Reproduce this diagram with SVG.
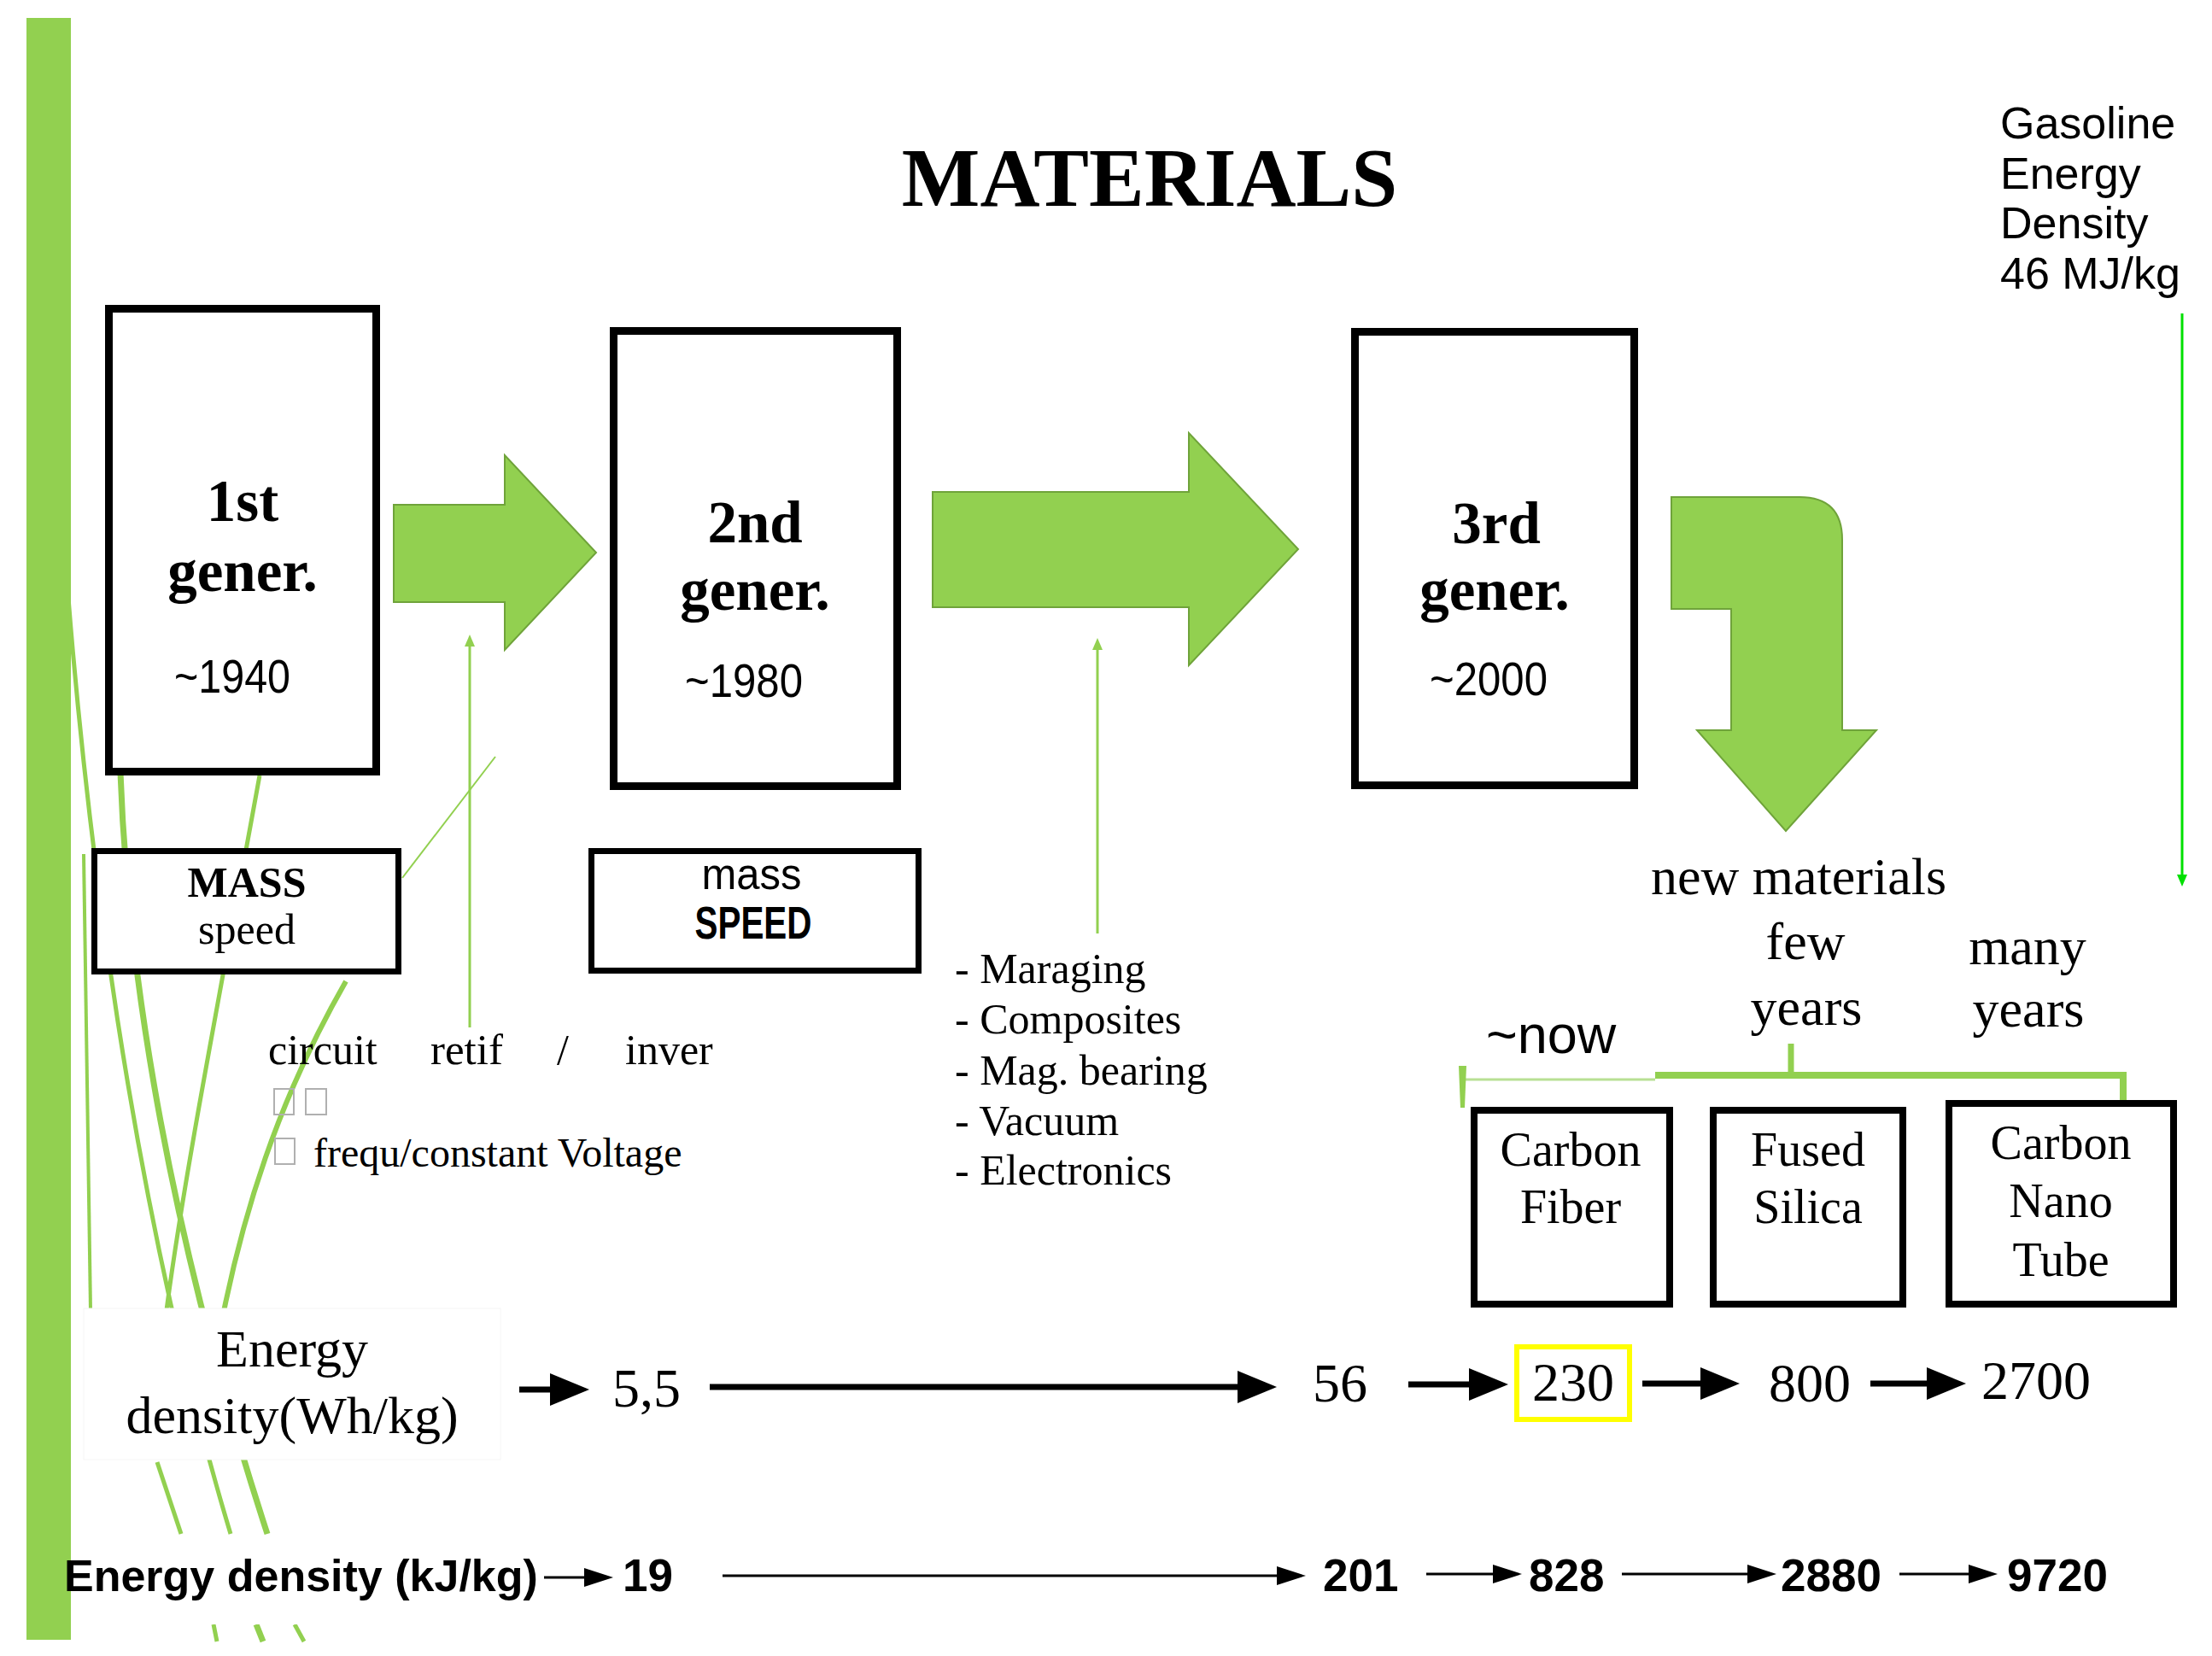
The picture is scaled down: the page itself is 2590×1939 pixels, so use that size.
<svg xmlns="http://www.w3.org/2000/svg" width="2590" height="1939" viewBox="0 0 2590 1939">
<defs>
<style>
.serif{font-family:"Liberation Serif","Times New Roman",serif;fill:#000}
.sans{font-family:"Liberation Sans",Arial,sans-serif;fill:#000}
.b{font-weight:bold}
.mid{text-anchor:middle}
.box{fill:#fff;stroke:#000;stroke-width:9}
.sbox{fill:#fff;stroke:#000;stroke-width:7}
.mbox{fill:#fff;stroke:#000;stroke-width:8}
.garrow{fill:#92D050;stroke:#6FA33A;stroke-width:2}
.wisp{fill:none;stroke:#92D050;stroke-linecap:butt}
.thick{stroke:#000;stroke-width:7;fill:none}
.thin{stroke:#000;stroke-width:3;fill:none}
.gline{stroke:#92D050;stroke-width:3;fill:none}
.tofu{fill:none;stroke:#b0b0b0;stroke-width:2}
</style>
<marker id="hBig" markerUnits="userSpaceOnUse" markerWidth="48" markerHeight="40" refX="3" refY="19" orient="auto"><path d="M0,0 L46,19 L0,38 Z" fill="#000"/></marker>
<marker id="hSmall" markerUnits="userSpaceOnUse" markerWidth="36" markerHeight="24" refX="3" refY="11" orient="auto"><path d="M0,0 L34,11 L0,22 Z" fill="#000"/></marker>
<marker id="hGreen" markerUnits="userSpaceOnUse" markerWidth="16" markerHeight="14" refX="2" refY="6" orient="auto"><path d="M0,0 L14,6 L0,12 Z" fill="#92D050"/></marker>
<marker id="hLime" markerUnits="userSpaceOnUse" markerWidth="16" markerHeight="14" refX="2" refY="6" orient="auto"><path d="M0,0 L14,6 L0,12 Z" fill="#00E000"/></marker>
</defs>

<rect x="0" y="0" width="2590" height="1939" fill="#fff"/>

<g id="decoration">
<path class="wisp" d="M80,700 C100,950 150,1400 270,1796" stroke-width="5"/>
<path class="wisp" d="M141,905 C150,1150 200,1450 313,1796" stroke-width="7"/>
<path class="wisp" d="M405,1149 C330,1280 280,1420 250,1600" stroke-width="6"/>
<path class="wisp" d="M304,908 C260,1150 215,1380 195,1534" stroke="#d6ecc2" stroke-width="5"/>
<path class="wisp" d="M98,1000 L106,1534" stroke="#e3f2d6" stroke-width="4"/>
<path class="wisp" d="M580,886 L471,1028" stroke="#c6e3a8" stroke-width="2"/>
<path class="wisp" d="M184,1712 L212,1796" stroke="#d6ecc2" stroke-width="5"/>
<path class="wisp" d="M300,1902 L308,1922" stroke-width="7"/>
<path class="wisp" d="M345,1902 L356,1922" stroke-width="5"/>
<path class="wisp" d="M250,1902 L254,1922" stroke="#d6ecc2" stroke-width="5"/>
<rect x="31" y="21" width="52" height="1899" fill="#92D050"/>
<rect x="98" y="1532" width="488" height="177" fill="#fff" stroke="#f6f6f6" stroke-width="1"/>
<rect x="84" y="1797" width="620" height="105" fill="#fff"/>
</g>

<g id="title"><text class="serif b mid" x="1346" y="241" font-size="97">MATERIALS</text></g>

<g id="gen1">
<rect class="box" x="127.5" y="361.5" width="313" height="542"/>
<text class="serif b mid" x="284" y="610" font-size="69">1st</text>
<text class="serif b mid" x="284" y="692" font-size="69">gener.</text>
<text class="sans mid" x="272" y="811" font-size="56" textLength="136" lengthAdjust="spacingAndGlyphs">~1940</text>
</g>

<g id="gen2">
<rect class="box" x="718.5" y="387.5" width="332" height="533"/>
<text class="serif b mid" x="884" y="635" font-size="69">2nd</text>
<text class="serif b mid" x="884" y="714" font-size="69">gener.</text>
<text class="sans mid" x="871" y="816" font-size="56" textLength="138" lengthAdjust="spacingAndGlyphs">~1980</text>
</g>

<g id="gen3">
<rect class="box" x="1586.5" y="388.5" width="327" height="531"/>
<text class="serif b mid" x="1752" y="636" font-size="69">3rd</text>
<text class="serif b mid" x="1750" y="714" font-size="69">gener.</text>
<text class="sans mid" x="1743" y="814" font-size="56" textLength="138" lengthAdjust="spacingAndGlyphs">~2000</text>
</g>

<g id="arrow-1-2"><path class="garrow" d="M461,591 H591 V533 L698,647 L591,761 V705 H461 Z"/></g>
<g id="arrow-2-3"><path class="garrow" d="M1092,576 H1392 V507 L1520,643 L1392,779 V711 H1092 Z"/></g>
<g id="arrow-3-new"><path class="garrow" d="M1957,582 H2107 Q2157,582 2157,632 V855 H2197 L2091,973 L1987,855 H2027 V713 H1957 Z"/></g>

<g id="mass-box">
<rect class="sbox" x="110.5" y="996.5" width="356" height="141"/>
<text class="serif b mid" x="289" y="1050" font-size="50">MASS</text>
<text class="serif mid" x="289" y="1105" font-size="50">speed</text>
</g>

<g id="speed-box">
<rect class="sbox" x="692.5" y="996.5" width="383" height="140"/>
<text class="sans mid" x="880" y="1041" font-size="52" textLength="117" lengthAdjust="spacingAndGlyphs">mass</text>
<text class="sans b mid" x="882" y="1099" font-size="54" textLength="137" lengthAdjust="spacingAndGlyphs">SPEED</text>
</g>

<g id="circuit-note">
<text class="serif" x="314" y="1246" font-size="50">circuit</text>
<text class="serif" x="504" y="1246" font-size="51">retif</text>
<text class="serif" x="652" y="1246" font-size="50">/</text>
<text class="serif" x="732" y="1246" font-size="50">inver</text>
<rect class="tofu" x="321" y="1275" width="23" height="30"/>
<rect class="tofu" x="358" y="1275" width="24" height="30"/>
<rect class="tofu" x="322" y="1333" width="23" height="30"/>
<text class="serif" x="367" y="1366" font-size="48">frequ/constant Voltage</text>
</g>

<g id="tech-list">
<text class="serif" x="1118" y="1151" font-size="50">- Maraging</text>
<text class="serif" x="1118" y="1210" font-size="50">- Composites</text>
<text class="serif" x="1118" y="1270" font-size="50">- Mag. bearing</text>
<text class="serif" x="1118" y="1329" font-size="50">- Vacuum</text>
<text class="serif" x="1118" y="1387" font-size="50">- Electronics</text>
</g>

<g id="gasoline">
<text class="sans" x="2342" y="162" font-size="52">Gasoline</text>
<text class="sans" x="2342" y="221" font-size="52">Energy</text>
<text class="sans" x="2342" y="279" font-size="52">Density</text>
<text class="sans" x="2342" y="338" font-size="52">46 MJ/kg</text>
</g>

<g id="new-materials">
<text class="serif mid" x="2106" y="1047" font-size="62">new materials</text>
<text class="serif mid" x="2114" y="1123" font-size="62">few</text>
<text class="serif mid" x="2115" y="1200" font-size="62">years</text>
<text class="serif mid" x="2374" y="1129" font-size="62">many</text>
<text class="serif mid" x="2375" y="1202" font-size="62">years</text>
<text class="sans" x="1740" y="1233" font-size="63">~now</text>
</g>

<g id="bracket">
<line x1="1713" y1="1264" x2="1938" y2="1264" stroke="#b8e094" stroke-width="3"/>
<path d="M1708,1248 L1717,1248 L1715,1297 L1710,1297 Z" fill="#92D050"/>
<path d="M1938,1259 H2486 V1294" stroke="#92D050" stroke-width="8" fill="none"/>
<path d="M2097,1259 V1222" stroke="#92D050" stroke-width="7" fill="none"/>
</g>

<g id="carbon-fiber">
<rect class="mbox" x="1726" y="1300" width="229" height="227"/>
<text class="serif mid" x="1839" y="1365" font-size="56">Carbon</text>
<text class="serif mid" x="1839" y="1432" font-size="56">Fiber</text>
</g>
<g id="fused-silica">
<rect class="mbox" x="2006" y="1300" width="222" height="227"/>
<text class="serif mid" x="2117" y="1365" font-size="56">Fused</text>
<text class="serif mid" x="2117" y="1432" font-size="56">Silica</text>
</g>
<g id="carbon-nano-tube">
<rect class="mbox" x="2282" y="1292" width="263" height="235"/>
<text class="serif mid" x="2413" y="1357" font-size="56">Carbon</text>
<text class="serif mid" x="2413" y="1425" font-size="56">Nano</text>
<text class="serif mid" x="2413" y="1494" font-size="56">Tube</text>
</g>

<g id="wh-row">
<text class="serif mid" x="342" y="1600" font-size="62">Energy</text>
<text class="serif mid" x="342" y="1678" font-size="62">density(Wh/kg)</text>
<text class="serif" x="717" y="1647" font-size="64">5,5</text>
<text class="serif" x="1537" y="1641" font-size="64">56</text>
<rect x="1776" y="1577" width="132" height="85" fill="none" stroke="#FFFF00" stroke-width="6"/>
<text class="serif mid" x="1842" y="1640" font-size="64">230</text>
<text class="serif" x="2071" y="1641" font-size="64">800</text>
<text class="serif" x="2320" y="1638" font-size="64">2700</text>
</g>

<g id="kj-row">
<text class="sans b" x="75" y="1863" font-size="52">Energy density (kJ/kg)</text>
<text class="sans b" x="729" y="1863" font-size="53">19</text>
<text class="sans b" x="1549" y="1863" font-size="53">201</text>
<text class="sans b" x="1790" y="1863" font-size="53">828</text>
<text class="sans b" x="2085" y="1863" font-size="53">2880</text>
<text class="sans b" x="2350" y="1863" font-size="53">9720</text>
</g>

<g id="connectors">
<line class="thick" x1="608" y1="1627" x2="647" y2="1627" marker-end="url(#hBig)"/>
<line class="thick" x1="831" y1="1624" x2="1452" y2="1624" marker-end="url(#hBig)"/>
<line class="thick" x1="1649" y1="1621" x2="1723" y2="1621" marker-end="url(#hBig)"/>
<line class="thick" x1="1923" y1="1620" x2="1994" y2="1620" marker-end="url(#hBig)"/>
<line class="thick" x1="2190" y1="1620" x2="2259" y2="1620" marker-end="url(#hBig)"/>
<line class="thin" x1="637" y1="1847" x2="687" y2="1847" marker-end="url(#hSmall)"/>
<line class="thin" x1="846" y1="1845" x2="1498" y2="1845" marker-end="url(#hSmall)"/>
<line class="thin" x1="1670" y1="1843" x2="1751" y2="1843" marker-end="url(#hSmall)"/>
<line class="thin" x1="1899" y1="1843" x2="2049" y2="1843" marker-end="url(#hSmall)"/>
<line class="thin" x1="2224" y1="1843" x2="2308" y2="1843" marker-end="url(#hSmall)"/>
<line class="gline" x1="550" y1="1203" x2="550" y2="755" marker-end="url(#hGreen)"/>
<line class="gline" x1="1285" y1="1093" x2="1285" y2="759" marker-end="url(#hGreen)"/>
<line x1="2555" y1="367" x2="2555" y2="1026" stroke="#00E000" stroke-width="3" marker-end="url(#hLime)"/>
</g>
</svg>
